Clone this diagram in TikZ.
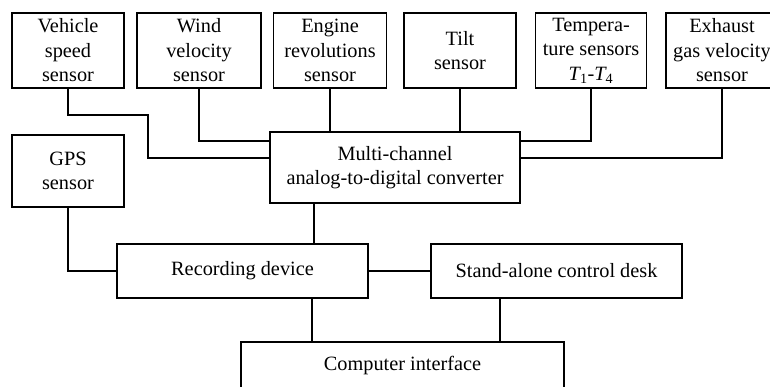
\documentclass[tikz,border=0pt]{standalone}
\usepackage{fontspec}
\setmainfont{Liberation Serif}
\begin{document}
\begin{tikzpicture}[x=1pt,y=-1pt,
  box/.style={draw, line width=1.7pt, align=center, inner sep=0pt,
    font=\fontsize{20.3}{24.5}\selectfont},
  wire/.style={line width=1.7pt}]
\useasboundingbox (0,0) rectangle (770,387);
\clip (0,0) rectangle (770,387);
\node[box, minimum width=112, minimum height=75] (veh) at (68,50.5) {Vehicle\\speed\\sensor};
\node[box, minimum width=124, minimum height=75] (wind) at (199,50.5) {Wind\\velocity\\sensor};
\node[box, minimum width=113, minimum height=75] (eng) at (330,50.5) {Engine\\revolutions\\sensor};
\node[box, minimum width=112, minimum height=75] (tilt) at (460,50.5) {Tilt\\sensor};
\node[box, minimum width=111, minimum height=75] (temp) at (591,50.5) {Tempera-\\ture sensors\\{\itshape T}\textsubscript{1}-{\itshape T}\textsubscript{4}};
\node[box, minimum width=112, minimum height=75] (exh) at (722,50.5) {Exhaust\\gas velocity\\sensor};
\node[box, minimum width=250, minimum height=71] (adc) at (395,167.5) {Multi-channel\\analog-to-digital converter};
\node[box, minimum width=112, minimum height=72] (gps) at (68,171) {GPS\\sensor};
\node[box, minimum width=251, minimum height=54] (rec) at (242.5,271) {Recording device};
\node[box, minimum width=251, minimum height=54] (sa) at (556.5,271) {Stand-alone control desk};
\node[box, minimum width=323, minimum height=48] (comp) at (402.5,366) {Computer interface};
\coordinate (vk) at (148,115);
\coordinate (vj) at (148,158);
\coordinate (wk) at (199,141);
\coordinate (tk) at (591,141);
\coordinate (ek) at (722,158);
\coordinate (ar) at (314,0);
\coordinate (rc) at (312,0);
\coordinate (sc) at (500,0);
\draw[wire] (veh.south) |- (vk) -- (vj) -- (vj -| adc.west);
\draw[wire] (wind.south) -- (wk) -- (wk -| adc.west);
\draw[wire] (eng.south) -- (eng.south |- adc.north);
\draw[wire] (tilt.south) -- (tilt.south |- adc.north);
\draw[wire] (temp.south) -- (tk) -- (tk -| adc.east);
\draw[wire] (exh.south) -- (ek) -- (ek -| adc.east);
\draw[wire] (gps.south) |- (rec.west);
\draw[wire] (adc.south -| ar) -- (rec.north -| ar);
\draw[wire] (rec.east) -- (sa.west);
\draw[wire] (rec.south -| rc) -- (comp.north -| rc);
\draw[wire] (sa.south -| sc) -- (comp.north -| sc);
\end{tikzpicture}
\end{document}
